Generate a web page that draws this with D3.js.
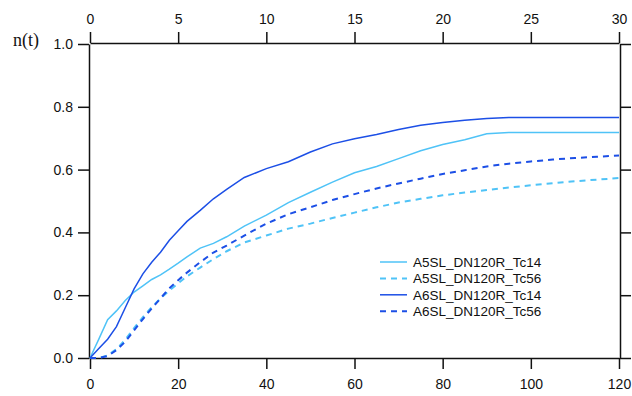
<!DOCTYPE html>
<html><head><meta charset="utf-8">
<script src="https://cdn.jsdelivr.net/npm/d3@7"></script>
<style>
html,body{margin:0;padding:0;background:#fff;}
svg{display:block;}
.axis text{font-family:"Liberation Sans",Arial,sans-serif;font-size:14px;fill:#111;}
.axis path,.axis line{stroke:#111;stroke-width:1.5;}
</style></head>
<body>
<svg id="c" width="632" height="396"></svg>
<script>
const times = [0,2,4,6,8,10,12,14,16,18,20,22,25,28,31,35,40,45,50,55,60,65,70,75,80,85,90,95,100,105,110,115,120];
const a5Tc14 = [0,0.06,0.122,0.15,0.183,0.21,0.23,0.25,0.265,0.283,0.302,0.322,0.35,0.365,0.386,0.42,0.455,0.495,0.528,0.56,0.59,0.61,0.635,0.66,0.68,0.695,0.714,0.718,0.718,0.718,0.718,0.718,0.718];
const a5Tc56 = [0,0,0.008,0.028,0.058,0.095,0.13,0.162,0.19,0.215,0.238,0.26,0.288,0.315,0.34,0.368,0.39,0.412,0.428,0.446,0.463,0.48,0.495,0.507,0.518,0.527,0.535,0.543,0.55,0.557,0.563,0.568,0.573];
const a6Tc14 = [0,0.03,0.06,0.10,0.16,0.22,0.268,0.305,0.337,0.375,0.405,0.435,0.47,0.507,0.537,0.575,0.603,0.625,0.656,0.682,0.698,0.712,0.728,0.741,0.75,0.757,0.763,0.766,0.766,0.766,0.766,0.766,0.766];
const a6Tc56 = [0,0,0.006,0.025,0.052,0.088,0.124,0.158,0.19,0.222,0.248,0.272,0.305,0.336,0.358,0.39,0.428,0.458,0.48,0.503,0.522,0.54,0.556,0.571,0.586,0.598,0.61,0.619,0.626,0.632,0.637,0.641,0.645];
const seriesNames = ["A5SL_DN120R_Tc14","A5SL_DN120R_Tc56","A6SL_DN120R_Tc14","A6SL_DN120R_Tc56"];
const bottomTicks = [0,20,40,60,80,100,120];
const topTicks = [0,5,10,15,20,25,30];
const yTicks = [0,0.2,0.4,0.6,0.8,1.0];
const yLabel = "n(t)";

const light = "#4fc3f7", dark = "#1c4fe6";
const series = [
  {name:seriesNames[0], vals:a5Tc14, color:light, dash:null, w:1.5},
  {name:seriesNames[1], vals:a5Tc56, color:light, dash:"6,5", w:2},
  {name:seriesNames[2], vals:a6Tc14, color:dark, dash:null, w:1.5},
  {name:seriesNames[3], vals:a6Tc56, color:dark, dash:"6,5", w:2}
];

const svg = d3.select("#c");
const L=90, R=619, T=44, B=358;
const x = d3.scaleLinear().domain([0,120]).range([L,R]);
const xTop = d3.scaleLinear().domain([0,30]).range([L,R]);
const y = d3.scaleLinear().domain([0,1]).range([B,T]);

svg.append("g").attr("class","axis").attr("transform",`translate(0,${B})`)
  .call(d3.axisBottom(x).tickValues(bottomTicks).tickSize(11).tickSizeOuter(0).tickPadding(10).tickFormat(d3.format("d")));
svg.append("g").attr("class","axis").attr("transform",`translate(0,${T-1})`)
  .call(d3.axisTop(xTop).tickValues(topTicks).tickSize(11).tickSizeOuter(0).tickPadding(8).tickFormat(d3.format("d")));
svg.append("g").attr("class","axis").attr("transform",`translate(${L-1},0)`)
  .call(d3.axisLeft(y).tickValues(yTicks).tickSize(11).tickSizeOuter(0).tickPadding(5).tickFormat(d3.format(".1f")));
svg.append("g").attr("class","axis").attr("transform",`translate(${R+1},0)`)
  .call(d3.axisRight(y).tickValues(yTicks).tickSize(11).tickSizeOuter(0).tickFormat(""));

svg.append("text").attr("x",13).attr("y",46)
  .attr("font-family","'Liberation Serif','Times New Roman',serif").attr("font-size",18).attr("fill","#111")
  .text(yLabel);

const line = d3.line().x((d,i)=>x(times[i])).y(d=>y(d));
const g = svg.append("g");
series.forEach(s=>{
  g.append("path").datum(s.vals).attr("d",line).attr("fill","none")
   .attr("stroke",s.color).attr("stroke-width",s.w)
   .attr("stroke-dasharray",s.dash);
});

const lg = svg.append("g").attr("transform","translate(380,262)");
series.forEach((s,i)=>{
  const yy = i*16.4;
  lg.append("line").attr("x1",0).attr("x2",27).attr("y1",yy).attr("y2",yy)
    .attr("stroke",s.color).attr("stroke-width",s.w).attr("stroke-dasharray",s.dash);
  lg.append("text").attr("x",33).attr("y",yy).attr("dy","0.35em")
    .attr("font-family","'Liberation Sans',Arial,sans-serif").attr("font-size",13.5).attr("fill","#111")
    .text(s.name);
});
</script>
</body></html>
